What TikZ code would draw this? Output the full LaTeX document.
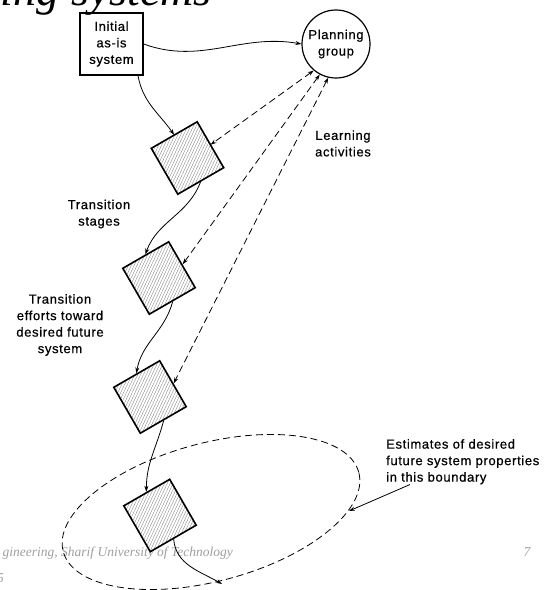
\documentclass[tikz,border=0pt]{standalone}
\usepackage{fontspec}
\setmainfont{Liberation Sans}
\newfontfamily\labelfont[LetterSpace=5,FakeBold=0.6]{Liberation Sans}
\newfontfamily\slidefont{Liberation Serif}
\usetikzlibrary{arrows.meta,patterns.meta}
\definecolor{footgray}{gray}{0.62}

\begin{document}
\begin{tikzpicture}[x=1pt, y=1pt, >={Stealth[length=6pt,width=4pt]},
    every node/.style={font=\labelfont\fontsize{13}{16.5}\selectfont, align=center},
    asis/.style={draw, line width=1.2pt, minimum width=63pt, minimum height=62pt, inner sep=0pt},
    group/.style={draw, circle, line width=1.2pt, minimum size=68pt, inner sep=0pt},
    stage/.style={draw, line width=1.6pt, minimum size=53pt, inner sep=0pt, rotate=30,
        pattern={Lines[angle=65,distance=2.6pt,line width=0.35pt]}, pattern color=black!50},
    flow/.style={->, line width=0.8pt},
    learn/.style={<->, line width=0.8pt, dash pattern=on 7pt off 4pt},
    foot/.style={font=\slidefont\itshape\fontsize{13.5}{13.5}\selectfont, text=footgray, inner sep=0pt}]
    \useasboundingbox (0,0) rectangle (556,-590);

    % what is left of the slide
    \node[font=\slidefont\itshape\fontsize{46}{46}\selectfont, anchor=base east, inner sep=0pt] (title) at (212,-5) {ing systems};
    \node[foot, anchor=base east] (footer) at (233,-556) {gineering, Sharif University of Technology};
    \node[foot, anchor=base] (page) at (527,-556) {7};
    \node[foot, anchor=base east] (date) at (4,-582) {5};

    % system and planning group
    \node[asis] (asis) at (111.5,-44) {Initial\\as-is\\system};
    \node[group] (plan) at (336,-44) {Planning\\group};

    % transition stages
    \node[stage] (d1) at (187.5,-158) {};
    \node[stage] (d2) at (159,-278) {};
    \node[stage] (d3) at (150,-397) {};
    \node[stage] (d4) at (160,-515.5) {};

    % boundary of the future system
    \draw[dash pattern=on 7pt off 4pt, line width=0.8pt, rotate around={15:(211,-512)}] (211,-512) ellipse [x radius=153, y radius=69];
    \coordinate (bnd-s) at (222,-584);
    \coordinate (bnd-e) at (349,-511);

    % labels
    \node (learn) at (343,-143.5) {Learning\\activities};
    \node (trans) at (99,-214) {Transition\\stages};
    \node (effort) at (60,-325) {Transition\\efforts toward\\desired future\\system};
    \node[align=left, anchor=north west, inner sep=0pt] (est) at (386,-439) {Estimates of desired\\future system properties\\in this boundary};

    \draw[flow] (asis.east) to[out=-20, in=170] (plan.west);
    \draw[flow] (asis.-50) to[out=-80, in=125] (d1.north);
    \draw[flow] (d1.south) to[out=-110, in=70] (d2.north);
    \draw[flow] (d2.south) to[out=-105, in=80] (d3.north);
    \draw[flow] (d3.south) to[out=-105, in=90] (d4.north);
    \draw[flow] (d4.south) to[out=-85, in=150] (bnd-s);
    \draw[flow] ([xshift=24pt]est.south west) -- (bnd-e);
    \draw[learn] (plan.-130) -- (d1.east);
    \draw[learn] (plan.-118) -- (d2.east);
    \draw[learn] (plan.-103) -- (d3.east);
\end{tikzpicture}
\end{document}
